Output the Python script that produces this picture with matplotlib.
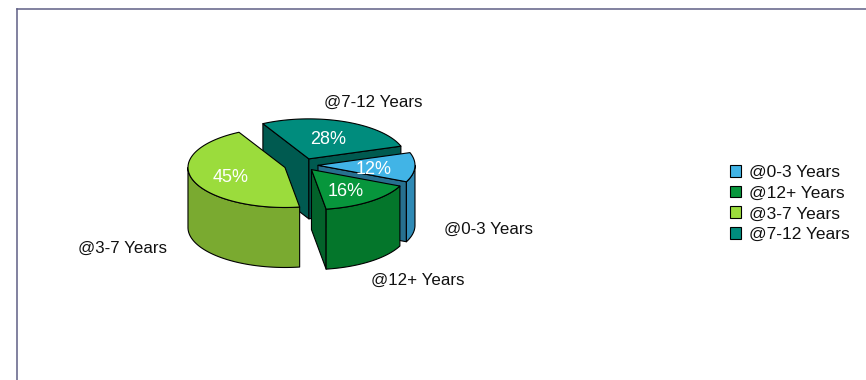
import numpy as np
import matplotlib
matplotlib.use('Agg')
import matplotlib.pyplot as plt
from matplotlib.patches import Patch

plt.rcParams['font.family'] = ['Liberation Sans', 'DejaVu Sans']

categories = ['@0-3 Years', '@12+ Years', '@3-7 Years', '@7-12 Years']
values = [12, 16, 45, 28]

# colours per slice: top, outer wall, cut face
top_colors = ['#41b4e6', '#07963c', '#9bdc3c', '#008c7d']
wall_colors = ['#2f8ab5', '#04762b', '#7aaa30', '#005a50']
face_colors = ['#27708f', '#03622a', '#7aaa30', '#005a50']

# pie geometry, in pixels
cx, cy = 303, 165
rx, ry = 97, 40
depth = 60
start = 18.5
tilt = ry / rx
explode = {'@0-3 Years': 15, '@12+ Years': 14, '@3-7 Years': 19, '@7-12 Years': 16}

outer_pos = {'@0-3 Years': (489, 229), '@12+ Years': (418, 280), '@3-7 Years': (122, 248), '@7-12 Years': (373, 102)}
pct_pos = {'@0-3 Years': (374, 169), '@12+ Years': (346, 191), '@3-7 Years': (231, 177), '@7-12 Years': (328, 140)}

fig = plt.figure(figsize=(8.66, 3.8), dpi=100)
ax = fig.add_axes([0, 0, 1, 1])
ax.set_xlim(0, 866)
ax.set_ylim(380, 0)
ax.axis('off')

# slices run clockwise from the start angle
# (the 7-12 slice sits between 3-7 and 0-3 going clockwise)
spans = np.array(values) / sum(values) * 360
order = [3, 0, 1, 2]
angles = {}
t = start + spans[3]
for i in order:
    angles[i] = (t, t - spans[i])
    t = t - spans[i]


def arc(x0, y0, a, b):
    tt = np.radians(np.linspace(a, b, 80))
    return x0 + rx * np.cos(tt), y0 - ry * np.sin(tt)


def draw_poly(xs, ys, color, z):
    ax.fill(xs, ys, facecolor=color, edgecolor='black', linewidth=0.8, joinstyle='round', zorder=z)


def draw_slice(i, z):
    a, b = angles[i]
    mid = np.radians((a + b) / 2)
    d = explode[categories[i]]
    x0 = cx + d * np.cos(mid)
    y0 = cy - d * tilt * np.sin(mid)

    # cut faces that look towards the viewer
    for ang in (a, b):
        rad = np.radians(ang)
        ex, ey = x0 + rx * np.cos(rad), y0 - ry * np.sin(rad)
        if i == 3 or (i in (0, 1) and ang == b):
            draw_poly([x0, ex, ex, x0], [y0, ey, ey + depth, y0 + depth], face_colors[i], z)

    # outer wall, only the front half of the ellipse shows
    w0, w1 = max(b, -180), min(a, 0)
    if w1 > w0:
        xs, ys = arc(x0, y0, w0, w1)
        draw_poly(np.r_[xs, xs[::-1]], np.r_[ys, ys[::-1] + depth], wall_colors[i], z + 0.1)

    # top
    xs, ys = arc(x0, y0, a, b)
    draw_poly(np.r_[x0, xs], np.r_[y0, ys], top_colors[i], z + 0.2)


for z, i in enumerate([3, 0, 2, 1]):
    draw_slice(i, z + 1)

for i, name in enumerate(categories):
    ax.text(*outer_pos[name], name, fontsize=12.2, color='#111111', ha='center', va='center', zorder=10)
    ax.text(*pct_pos[name], f'{values[i]}%', fontsize=13, color='white', ha='center', va='center', zorder=10)

# frame, only top and left are drawn
ax.plot([17, 17], [380, 9], color='#5f5f85', lw=1.1, zorder=0)
ax.plot([17, 866], [9, 9], color='#5f5f85', lw=1.1, zorder=0)

handles = [Patch(facecolor=c, edgecolor='black', linewidth=0.8) for c in top_colors]
ax.legend(handles, categories, loc='center left', bbox_to_anchor=(730 / 866, 1 - 203.5 / 380),
          frameon=False, fontsize=12.5, handlelength=0.66, handleheight=0.66, handletextpad=0.46,
          labelspacing=0.33, borderpad=0, borderaxespad=0, labelcolor='#111111')

fig.savefig('out.png', dpi=100)
